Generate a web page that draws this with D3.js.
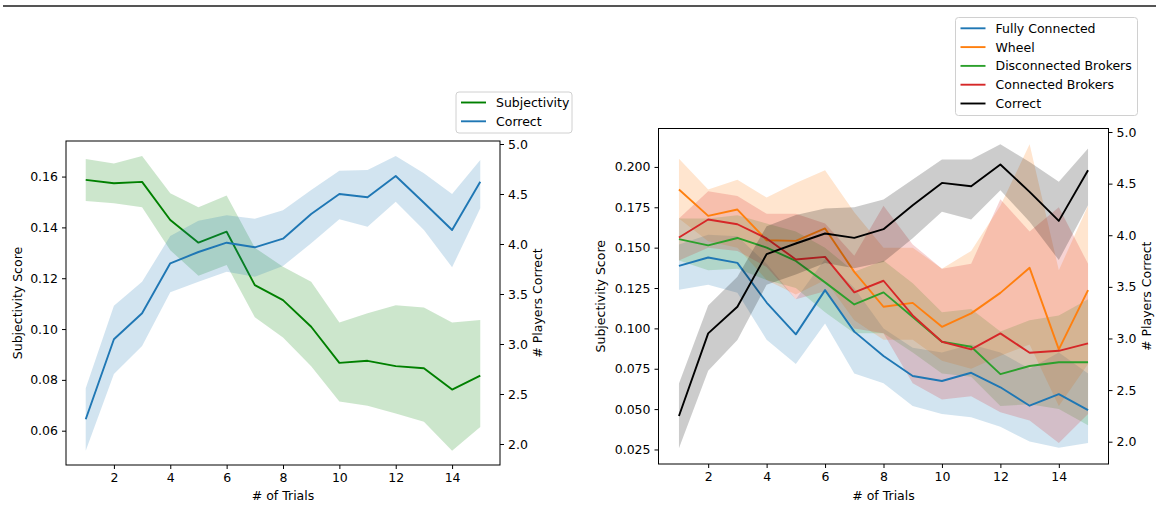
<!DOCTYPE html>
<html>
<head>
<meta charset="utf-8">
<script src="https://cdn.jsdelivr.net/npm/d3@7"></script>
<style>
  body { margin: 0; background: #fff; }
  svg text { font-family: "DejaVu Sans", sans-serif; font-size: 12.5px; fill: #000; }
</style>
</head>
<body>
<svg id="chart" width="1156" height="506"></svg>
<script>
const trials = [1, 2, 3, 4, 5, 6, 7, 8, 9, 10, 11, 12, 13, 14, 15];
const trialTicks = [2, 4, 6, 8, 10, 12, 14];

// left panel: overall subjectivity vs correct
const subjMean = [0.1587, 0.1574, 0.1579, 0.1429, 0.134, 0.1383, 0.1173, 0.1114, 0.1009, 0.0867, 0.0875, 0.0854, 0.0846, 0.0762, 0.0817];
const subjLow  = [0.1504, 0.1495, 0.1479, 0.131, 0.121, 0.1252, 0.1046, 0.0967, 0.0854, 0.0715, 0.0698, 0.0668, 0.0635, 0.0521, 0.0615];
const subjHigh = [0.1669, 0.1651, 0.1681, 0.1534, 0.1479, 0.1526, 0.132, 0.1245, 0.1186, 0.1026, 0.1062, 0.1094, 0.1085, 0.1026, 0.1036];

const correctMean = [2.247, 3.047, 3.307, 3.807, 3.92, 4.013, 3.967, 4.053, 4.30, 4.50, 4.467, 4.68, 4.413, 4.14, 4.623];
const correctLow  = [1.933, 2.70, 2.98, 3.517, 3.623, 3.723, 3.673, 3.78, 4.007, 4.247, 4.173, 4.423, 4.14, 3.767, 4.357];
const correctHigh = [2.557, 3.383, 3.623, 4.08, 4.233, 4.287, 4.253, 4.337, 4.54, 4.733, 4.74, 4.88, 4.707, 4.50, 4.84];

// right panel: by network type
const fcMean = [0.1387, 0.1439, 0.1406, 0.116, 0.0963, 0.1237, 0.098, 0.0829, 0.0705, 0.0674, 0.0725, 0.0635, 0.0521, 0.0593, 0.0494];
const fcLow  = [0.124, 0.127, 0.122, 0.093, 0.078, 0.103, 0.072, 0.066, 0.052, 0.047, 0.045, 0.039, 0.030, 0.026, 0.029];
const fcHigh = [0.152, 0.158, 0.157, 0.140, 0.118, 0.143, 0.125, 0.100, 0.088, 0.085, 0.090, 0.085, 0.075, 0.085, 0.072];

const wheelMean = [0.186, 0.1697, 0.1736, 0.1546, 0.1542, 0.1619, 0.135, 0.1134, 0.1158, 0.101, 0.1093, 0.122, 0.1375, 0.087, 0.1237];
const wheelLow  = [0.168, 0.154, 0.150, 0.130, 0.121, 0.130, 0.105, 0.093, 0.093, 0.080, 0.075, 0.083, 0.090, 0.052, 0.078];
const wheelHigh = [0.205, 0.186, 0.192, 0.181, 0.190, 0.198, 0.172, 0.150, 0.150, 0.137, 0.148, 0.176, 0.214, 0.136, 0.176];

const dbMean = [0.1553, 0.1514, 0.156, 0.150, 0.1418, 0.1285, 0.1148, 0.1223, 0.107, 0.0917, 0.0886, 0.0717, 0.0767, 0.079, 0.079];
const dbLow  = [0.142, 0.136, 0.137, 0.130, 0.125, 0.110, 0.097, 0.097, 0.085, 0.072, 0.070, 0.052, 0.053, 0.050, 0.040];
const dbHigh = [0.168, 0.168, 0.170, 0.165, 0.160, 0.150, 0.135, 0.142, 0.128, 0.110, 0.112, 0.098, 0.105, 0.108, 0.118];

const cbMean = [0.1563, 0.1674, 0.1645, 0.1557, 0.1427, 0.1443, 0.1223, 0.1295, 0.108, 0.0917, 0.087, 0.0969, 0.0849, 0.0861, 0.0907];
const cbLow  = [0.142, 0.150, 0.148, 0.138, 0.118, 0.123, 0.100, 0.097, 0.066, 0.056, 0.058, 0.048, 0.043, 0.029, 0.047];
const cbHigh = [0.168, 0.185, 0.182, 0.171, 0.171, 0.165, 0.145, 0.176, 0.152, 0.137, 0.140, 0.180, 0.160, 0.175, 0.140];

const corr2Mean = [2.249, 3.049, 3.307, 3.817, 3.92, 4.017, 3.975, 4.059, 4.291, 4.507, 4.475, 4.685, 4.42, 4.139, 4.63];
const corr2Low  = [1.936, 2.687, 2.985, 3.52, 3.62, 3.73, 3.68, 3.74, 3.97, 4.227, 4.153, 4.437, 4.13, 3.759, 4.291];
const corr2High = [2.565, 3.32, 3.597, 4.088, 4.195, 4.26, 4.27, 4.347, 4.54, 4.734, 4.734, 4.882, 4.71, 4.517, 4.84];

const leftTicks1 = [0.06, 0.08, 0.10, 0.12, 0.14, 0.16];
const leftTicks2 = [0.025, 0.050, 0.075, 0.100, 0.125, 0.150, 0.175, 0.200];
const rightTicks = [2.0, 2.5, 3.0, 3.5, 4.0, 4.5, 5.0];

const svg = d3.select("#chart");

// thin rule across the top
svg.append("line")
  .attr("x1", 3).attr("x2", 1156)
  .attr("y1", 6).attr("y2", 6)
  .attr("stroke", "#555").attr("stroke-width", 2);

const pack = (mean, low, high) => trials.map((t, i) => ({ t, m: mean[i], lo: low[i], hi: high[i] }));

function drawPanel(p) {
  const g = svg.append("g");
  const x = d3.scaleLinear().domain([0.3, 15.7]).range([p.left, p.right]);
  const yL = d3.scaleLinear().domain(p.yDomain).range([p.bottom, p.top]);
  const yR = d3.scaleLinear().domain(p.y2Domain).range([p.bottom, p.top]);

  const drawSeries = (list, y) => {
    const area = d3.area().x(d => x(d.t)).y0(d => y(d.lo)).y1(d => y(d.hi));
    const line = d3.line().x(d => x(d.t)).y(d => y(d.m));
    list.forEach(s => {
      g.append("path").attr("d", area(s.data))
        .attr("fill", s.color).attr("fill-opacity", 0.2).attr("stroke", "none");
    });
    list.forEach(s => {
      g.append("path").attr("d", line(s.data))
        .attr("fill", "none").attr("stroke", s.color)
        .attr("stroke-width", 1.9).attr("stroke-linejoin", "round");
    });
  };
  drawSeries(p.series, yL);
  drawSeries([p.correct], yR);

  // spines
  g.append("rect")
    .attr("x", p.left).attr("y", p.top)
    .attr("width", p.right - p.left).attr("height", p.bottom - p.top)
    .attr("fill", "none").attr("stroke", "#000").attr("stroke-width", 1);

  const style = sel => {
    sel.select(".domain").remove();
    sel.selectAll(".tick line").attr("stroke", "#000");
    sel.selectAll(".tick text").attr("font-size", null).attr("font-family", null);
  };

  g.append("g").attr("transform", `translate(0,${p.bottom})`)
    .call(d3.axisBottom(x).tickValues(trialTicks).tickSize(4).tickPadding(4).tickFormat(d3.format("d")))
    .call(style);
  g.append("g").attr("transform", `translate(${p.left},0)`)
    .call(d3.axisLeft(yL).tickValues(p.yTicks).tickSize(4).tickPadding(4).tickFormat(d3.format(p.yFormat)))
    .call(style);
  g.append("g").attr("transform", `translate(${p.right},0)`)
    .call(d3.axisRight(yR).tickValues(rightTicks).tickSize(4).tickPadding(4).tickFormat(d3.format(".1f")))
    .call(style);

  const midY = (p.top + p.bottom) / 2;
  g.append("text").attr("x", (p.left + p.right) / 2).attr("y", 495)
    .attr("text-anchor", "middle").attr("dominant-baseline", "central").text("# of Trials");
  g.append("text").attr("transform", `translate(${p.yLabelX},${midY}) rotate(-90)`)
    .attr("text-anchor", "middle").attr("dominant-baseline", "central").text("Subjectivity Score");
  g.append("text").attr("transform", `translate(${p.y2LabelX},${midY}) rotate(-90)`)
    .attr("text-anchor", "middle").attr("dominant-baseline", "central").text("# Players Correct");

  // legend
  const lg = p.legend;
  const entries = p.legendOrder;
  g.append("rect")
    .attr("x", lg.x).attr("y", lg.y).attr("width", lg.w).attr("height", lg.h)
    .attr("rx", 3).attr("fill", "#fff").attr("fill-opacity", 0.8)
    .attr("stroke", "#d0d0d0").attr("stroke-width", 1);
  entries.forEach((s, i) => {
    const yy = lg.y + lg.first + i * lg.step;
    g.append("line").attr("x1", lg.x + 5).attr("x2", lg.x + 30)
      .attr("y1", yy).attr("y2", yy)
      .attr("stroke", s.color).attr("stroke-width", 1.9);
    g.append("text").attr("x", lg.x + 40).attr("y", yy)
      .attr("dominant-baseline", "central").text(s.name);
  });
}

const subjSeries = { name: "Subjectivity", color: "green", data: pack(subjMean, subjLow, subjHigh) };
const correct1 = { name: "Correct", color: "#1f77b4", data: pack(correctMean, correctLow, correctHigh) };

drawPanel({
  left: 66, right: 500, top: 141, bottom: 465,
  yDomain: [0.0465, 0.174], y2Domain: [1.79, 5.03],
  yTicks: leftTicks1, yFormat: ".2f",
  yLabelX: 17, y2LabelX: 537,
  series: [subjSeries], correct: correct1,
  legendOrder: [subjSeries, correct1],
  legend: { x: 456, y: 92, w: 116, h: 41, first: 10.5, step: 18.8 }
});

const fcSeries = { name: "Fully Connected", color: "#1f77b4", data: pack(fcMean, fcLow, fcHigh) };
const wheelSeries = { name: "Wheel", color: "#ff7f0e", data: pack(wheelMean, wheelLow, wheelHigh) };
const dbSeries = { name: "Disconnected Brokers", color: "#2ca02c", data: pack(dbMean, dbLow, dbHigh) };
const cbSeries = { name: "Connected Brokers", color: "#d62728", data: pack(cbMean, cbLow, cbHigh) };
const correct2 = { name: "Correct", color: "#000", data: pack(corr2Mean, corr2Low, corr2High) };

drawPanel({
  left: 658.5, right: 1108.5, top: 128.5, bottom: 464,
  yDomain: [0.016, 0.2238], y2Domain: [1.784, 5.034],
  yTicks: leftTicks2, yFormat: ".3f",
  yLabelX: 600, y2LabelX: 1146,
  series: [fcSeries, wheelSeries, dbSeries, cbSeries], correct: correct2,
  legendOrder: [fcSeries, wheelSeries, dbSeries, cbSeries, correct2],
  legend: { x: 955.5, y: 17.5, w: 182, h: 98, first: 10.8, step: 18.8 }
});
</script>
</body>
</html>
